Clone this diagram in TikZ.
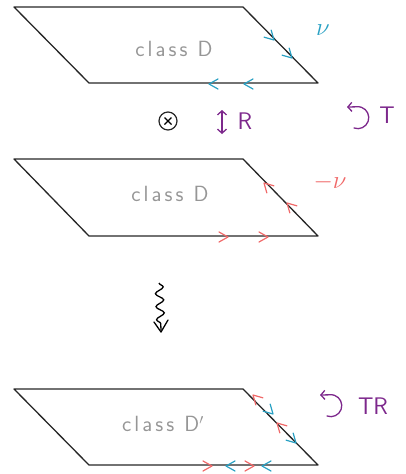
\documentclass[tikz,border=0pt]{standalone}
\usepackage{fontspec}
\usetikzlibrary{decorations.pathmorphing,arrows.meta}
\definecolor{cy}{RGB}{40,160,195}
\definecolor{rd}{RGB}{240,105,105}
\definecolor{pu}{RGB}{125,40,140}
\definecolor{gy}{RGB}{150,150,150}
\newfontfamily\lblfont[LetterSpace=14]{Latin Modern Sans}
\tikzset{
  plane/.style={draw=black!85,line width=1.3pt,line join=round},
  lbl/.style={text=gy,font=\lblfont\fontsize{22}{24}\selectfont},
  chev/.pic={\draw[line width=1.2pt,line cap=round,line join=round] (-9,5) -- (0,0) -- (-9,-5);},
  sym/.style={font=\sffamily\fontsize{24}{26}\selectfont,text=pu,inner sep=0pt},
  rotarr/.style={pu,line width=1.3pt,line cap=round,-{Straight Barb[length=4pt,width=9pt]}},
}
\begin{document}
\begin{tikzpicture}[x=1pt,y=-1pt]
\useasboundingbox (0,0) rectangle (406,474);
% planes
\draw[plane] (14,7) -- (243,7) -- (318,83) -- (89,83) -- cycle;
\draw[plane] (14,159) -- (243,159) -- (318,236) -- (89,236) -- cycle;
\draw[plane] (14,389) -- (243,389) -- (318,465) -- (89,465) -- cycle;
\node[lbl] (l1) at (174,49) {class D};
\node[lbl] (l2) at (170,194) {class D};
\node[lbl] (l3) at (163,424) {class D$'$};
% top plane arrows
\begin{scope}[cy]
\pic[rotate=-45] at (274,40) {chev};
\pic[rotate=-45] at (292,58) {chev};
\pic[rotate=180] at (209,84) {chev};
\pic[rotate=180] at (244,84) {chev};
\node[font=\fontsize{26}{28}\selectfont,text=cy] (nu) at (323,30) {$\nu$};
\end{scope}
% middle plane arrows
\begin{scope}[rd]
\pic[rotate=135] at (264,183) {chev};
\pic[rotate=135] at (287,203) {chev};
\pic at (228,237) {chev};
\pic at (268,237) {chev};
\node[font=\fontsize{26}{28}\selectfont,text=rd] (mnu) at (330,182) {$-\nu$};
\end{scope}
% bottom plane arrows
\pic[rd,rotate=135] at (253,395) {chev};
\pic[cy,rotate=-45] at (273,414) {chev};
\pic[rd,rotate=135] at (277,423) {chev};
\pic[cy,rotate=-45] at (296,443) {chev};
\pic[rd] at (212,466) {chev};
\pic[cy,rotate=180] at (226,466) {chev};
\pic[rd] at (254,466) {chev};
\pic[cy,rotate=180] at (262,466) {chev};
% otimes
\node[draw=black!85,circle,line width=1.2pt,minimum size=18pt,inner sep=0pt] (ot) at (168,121) {};
\draw[line width=1.1pt] (ot.center) ++(-3.5,-3.5) -- ++(7,7) (ot.center) ++(-3.5,3.5) -- ++(7,-7);
% R arrow
\coordinate (ra) at (222,110);
\coordinate (rb) at (222,134);
\draw[pu,line width=1.3pt,{Straight Barb[length=4pt,width=9pt]}-{Straight Barb[length=4pt,width=9pt]}] (ra) -- (rb);
\node[sym] (R) at (245,121) {R};
% T rotation
\draw[rotarr] (354,128) arc[start angle=110,end angle=-100,radius=11] -- (347,107);
\node[sym] (T) at (387,115) {T};
% TR rotation
\draw[rotarr] (327,416) arc[start angle=110,end angle=-100,radius=11] -- (320,395);
\node[sym] (TR) at (373,406) {TR};
% wavy arrow
\coordinate (w1) at (159,283);
\coordinate (w2) at (161,330);
\draw[line width=1.3pt,decorate,decoration={snake,amplitude=4pt,segment length=13pt,post length=4pt}] (w1) -- (w2);
\draw[line width=1.3pt,line cap=round,line join=round] (154,322) -- (161,332) -- (168,320);
\end{tikzpicture}
\end{document}
